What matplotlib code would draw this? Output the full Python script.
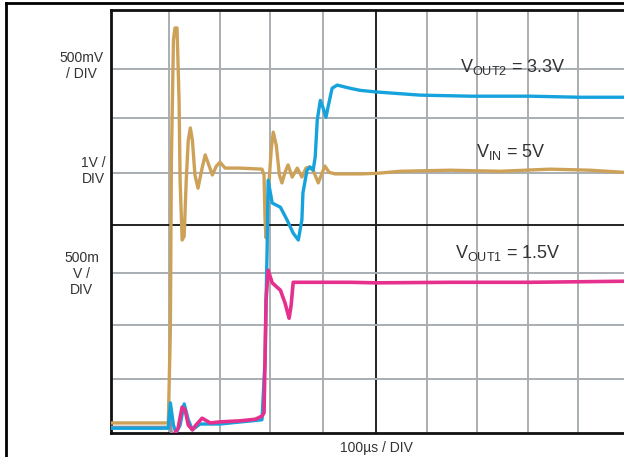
import matplotlib.pyplot as plt
from matplotlib.lines import Line2D

plt.rcParams['font.family'] = ['Liberation Sans', 'DejaVu Sans']
plt.rcParams['mathtext.fontset'] = 'custom'
plt.rcParams['mathtext.rm'] = 'Liberation Sans'

# scope traces, x in time divisions (100us/div), y in vertical divisions
vin_x = [-0.18, 0.94, 0.98, 1.00, 1.04, 1.07, 1.11, 1.15, 1.17, 1.21, 1.25, 1.29, 1.33, 1.37,
         1.41, 1.46, 1.52, 1.60, 1.66, 1.72, 1.80, 1.88, 1.95, 2.05, 2.34, 2.77, 2.81, 2.83,
         2.85, 2.87, 2.91, 2.95, 2.99, 3.05, 3.11, 3.16, 3.22, 3.28, 3.36, 3.46, 3.55, 3.63,
         3.69, 3.77, 3.87, 3.95, 4.00, 4.08, 4.20, 4.69, 5.00, 5.47, 6.45, 7.42, 8.40, 9.18, 9.84]
vin_y = [0.19, 0.19, 1.95, 5.16, 7.43, 7.66, 7.66, 6.29, 4.78, 3.65, 3.72, 4.78, 5.54, 5.77,
         5.54, 4.88, 4.63, 5.01, 5.26, 5.10, 4.88, 5.05, 5.12, 5.01, 5.01, 4.99, 4.88, 4.03,
         3.69, 3.93, 4.78, 5.35, 5.69, 5.44, 4.88, 4.73, 4.93, 5.07, 4.84, 5.01, 4.84, 5.01,
         5.03, 4.97, 4.73, 4.93, 5.05, 4.93, 4.90, 4.90, 4.91, 4.95, 4.97, 4.95, 4.99, 4.97, 4.93]

vout2_x = [-0.18, 0.94, 0.98, 1.04, 1.09, 1.17, 1.25, 1.33, 1.41, 1.56, 1.95, 2.77, 2.83, 2.85,
           2.87, 2.89, 2.97, 3.13, 3.26, 3.38, 3.48, 3.55, 3.57, 3.65, 3.71, 3.77, 3.81, 3.85,
           3.91, 3.96, 4.02, 4.06, 4.14, 4.24, 4.49, 4.69, 5.00, 5.86, 6.84, 8.01, 8.98, 9.84]
vout2_y = [0.09, 0.09, 0.57, 0.15, 0.00, 0.15, 0.55, 0.25, 0.06, 0.17, 0.17, 0.25, 1.38, 2.51,
           3.46, 4.78, 4.35, 4.27, 4.03, 3.78, 3.65, 4.03, 4.54, 4.97, 5.03, 4.97, 5.22, 5.92,
           6.29, 6.16, 5.97, 6.16, 6.52, 6.58, 6.52, 6.48, 6.45, 6.39, 6.37, 6.37, 6.35, 6.35]

vout1_x = [1.07, 1.13, 1.21, 1.27, 1.33, 1.41, 1.48, 1.60, 1.76, 1.95, 2.34, 2.64, 2.77, 2.81,
           2.83, 2.85, 2.89, 2.97, 3.13, 3.22, 3.30, 3.34, 3.38, 3.52, 4.49, 5.00, 6.45, 8.01, 9.84]
vout1_y = [0.00, 0.09, 0.49, 0.43, 0.15, 0.06, 0.15, 0.28, 0.19, 0.21, 0.23, 0.26, 0.32, 0.38,
           1.38, 2.51, 3.08, 2.84, 2.70, 2.46, 2.17, 2.42, 2.85, 2.85, 2.85, 2.84, 2.85, 2.85, 2.87]

gray_x = [-0.18, 0.94, 0.96, 1.00]
gray_y = [0.11, 0.11, 0.40, 0.00]

# graticule lines as they sit in the screenshot (center lines drawn dark)
grid_x = [0.96, 1.95, 2.93, 3.96, 5.00, 6.00, 6.97, 7.97, 8.95]
grid_y = [1.02, 2.04, 3.02, 3.93, 4.91, 5.95, 6.88]
center_x = 5.00
center_y = 3.93

fig = plt.figure(figsize=(6.24, 4.57), dpi=100)
ax = fig.add_axes([111 / 624, 24 / 457, 521 / 624, 423 / 457])
ax.set_xlim(-0.18, 10)
ax.set_ylim(0, 8)

for gx in grid_x:
    ax.axvline(gx, color='#222222' if gx == center_x else '#a9aeb3', lw=1.4, zorder=1)
for gy in grid_y:
    ax.axhline(gy, color='#222222' if gy == center_y else '#a9aeb3', lw=1.4, zorder=1)

ax.plot(vin_x, vin_y, color='#cda258', lw=2.4, zorder=3)
ax.plot(gray_x, gray_y, color='#978fa0', lw=2.2, zorder=3)
ax.plot(vout2_x, vout2_y, color='#16a2dc', lw=2.4, zorder=4)
ax.plot(vout1_x, vout1_y, color='#e5318d', lw=2.6, zorder=5)

ax.set_xticks([])
ax.set_yticks([])
for s in ['left', 'top', 'bottom']:
    ax.spines[s].set_linewidth(2)
    ax.spines[s].set_color('#111111')
ax.spines['right'].set_visible(False)

# trace labels
ax.text(6.64, 6.82, r'$\mathrm{V_{OUT2}}$ = 3.3V', fontsize=13, color='#333333', va='baseline')
ax.text(6.95, 5.22, r'$\mathrm{V_{IN}}$ = 5V', fontsize=13, color='#333333', va='baseline')
ax.text(6.54, 3.31, r'$\mathrm{V_{OUT1}}$ = 1.5V', fontsize=13, color='#333333', va='baseline')

# scale labels
fig.text(0.131, 0.856, '500mV\n/ DIV', ha='center', va='center', fontsize=10, color='#333333')
fig.text(0.149, 0.626, '1V /\nDIV', ha='center', va='center', fontsize=10, color='#333333')
fig.text(0.131, 0.400, '500m\nV /\nDIV', ha='center', va='center', fontsize=10, color='#333333')
fig.text(0.603, 0.020, '100µs / DIV', ha='center', va='center', fontsize=10, color='#333333')

# outer frame
fig.add_artist(Line2D([6 / 624, 6 / 624], [0, 1 - 3 / 457], transform=fig.transFigure, color='black', lw=2))
fig.add_artist(Line2D([6 / 624, 1], [1 - 3 / 457, 1 - 3 / 457], transform=fig.transFigure, color='black', lw=2))

fig.savefig('out.png', dpi=100)
